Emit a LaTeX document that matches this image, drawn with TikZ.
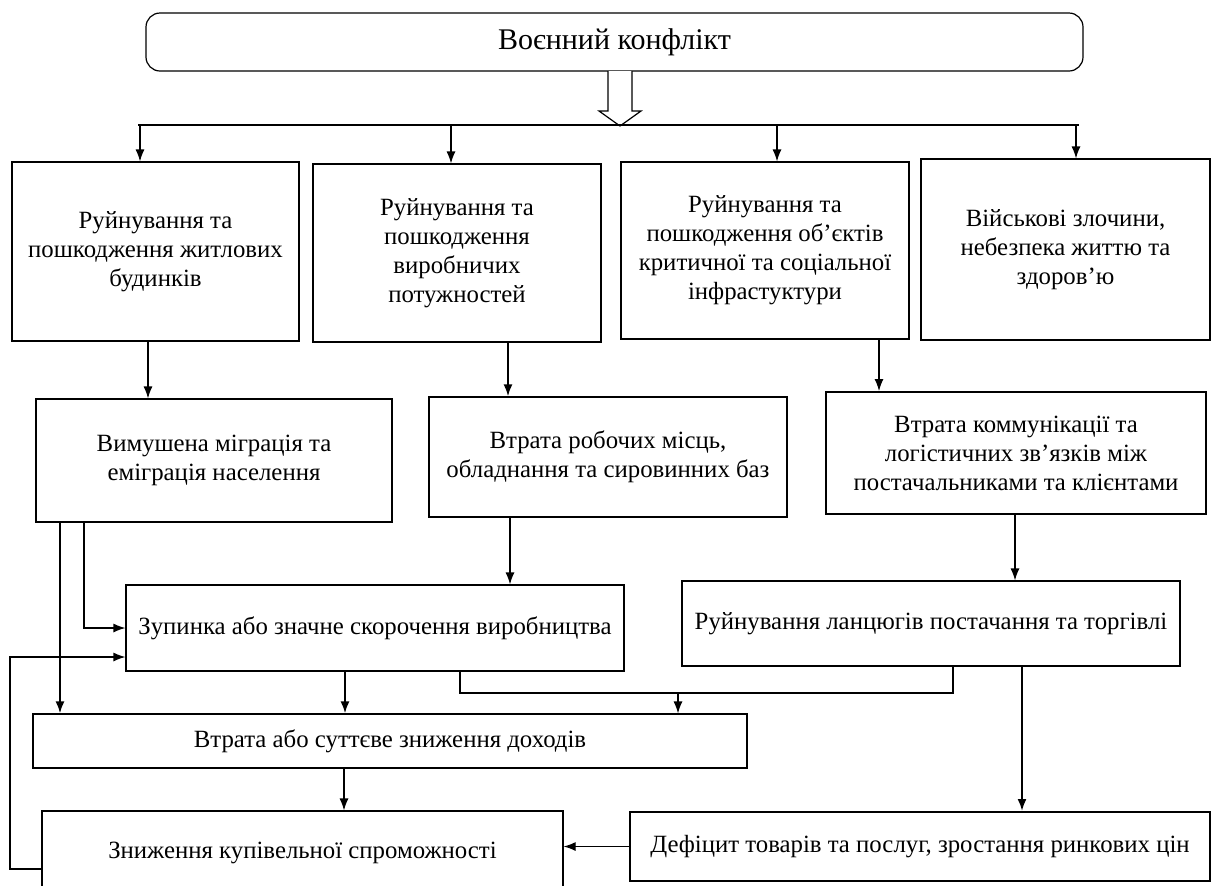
\documentclass[tikz,border=0pt]{standalone}
\usepackage{fontspec}
\setmainfont{Liberation Serif}
\usetikzlibrary{arrows.meta}

\tikzset{
  box/.style={draw, line width=0.6pt, align=center, inner sep=2pt,
    font=\fontsize{12.4}{14.5}\selectfont},
  arr/.style={-{Latex[length=6pt,width=4.5pt]}, line width=0.6pt},
  link/.style={line width=0.6pt},
}

\begin{document}
\begin{tikzpicture}[x=0.5pt, y=-0.5pt]
  \clip (0,0) rectangle (1215,885);

  % top
  \node[box, rounded corners=7pt, minimum width=468.5pt, minimum height=29pt,
    font=\fontsize{15}{17}\selectfont] (war) at (614.5,42) {Воєнний конфлікт};

  % first row
  \node[box, minimum width=143.5pt, minimum height=89.5pt] (B1) at (155.5,251.5)
    {Руйнування та\\пошкодження житлових\\будинків};
  \node[box, minimum width=144pt, minimum height=89pt] (B2) at (457,253)
    {Руйнування та\\пошкодження\\виробничих\\потужностей};
  \node[box, minimum width=144pt, minimum height=88.5pt] (B3) at (765,250.5)
    {Руйнування та\\пошкодження об’єктів\\критичної та соціальної\\інфрастуктури};
  \node[box, minimum width=144.5pt, minimum height=90.5pt] (B4) at (1065.5,249.5)
    {Військові злочини,\\небезпека життю та\\здоров’ю};

  % second row
  \node[box, minimum width=178pt, minimum height=61.5pt] (C1) at (214,460.5)
    {Вимушена міграція та\\еміграція населення};
  \node[box, minimum width=179pt, minimum height=60pt] (C2) at (608,457)
    {Втрата робочих місць,\\обладнання та сировинних баз};
  \node[box, line width=1pt, minimum width=190pt, minimum height=61pt] (C3) at (1016,453)
    {Втрата коммунікації та\\логістичних зв’язків між\\постачальниками та клієнтами};

  % third row
  \node[box, minimum width=249pt, minimum height=43pt] (D1) at (375,628)
    {Зупинка або значне скорочення виробництва};
  \node[box, minimum width=249pt, minimum height=42.5pt] (D2) at (931,623.5)
    {Руйнування ланцюгів постачання та торгівлі};

  \node[box, minimum width=357pt, minimum height=27pt] (E1) at (390,741)
    {Втрата або суттєве зниження доходів};

  % bottom
  \node[box, minimum width=260.5pt, minimum height=42pt] (F1) at (302.5,853)
    {Зниження купівельної спроможності};
  \node[box, line width=1pt, minimum width=290pt, minimum height=34.5pt] (F2) at (920,846.5)
    {Дефіцит товарів та послуг, зростання ринкових цін};

  % hollow arrow and bar
  \coordinate (h) at (620,71);
  \draw[link, fill=white] (h) ++(-12,0) -- ++(0,40) -- ++(-9,0) -- ++(21,15)
    -- ++(21,-15) -- ++(-9,0) -- ++(0,-40);
  \coordinate (barL) at (138,125);
  \coordinate (barR) at (1079,125);
  \draw[line width=1pt] (barL) -- (barR);
  \coordinate (d1) at (140,125);
  \coordinate (d2) at (451,125);
  \coordinate (d3) at (777,125);
  \coordinate (d4) at (1076,125);
  \draw[arr] (d1) -- (d1 |- B1.north);
  \draw[arr] (d2) -- (d2 |- B2.north);
  \draw[arr] (d3) -- (d3 |- B3.north);
  \draw[arr] (d4) -- (d4 |- B4.north);

  % row 1 to row 2
  \coordinate (a1) at (148,341);
  \coordinate (a2) at (508,342);
  \coordinate (a3) at (879,339);
  \draw[arr] (a1) -- (a1 |- C1.north);
  \draw[arr, line width=1pt] (a2) -- (a2 |- C2.north);
  \draw[arr] (a3) -- (a3 |- C3.north);

  % row 2 to row 3
  \coordinate (c1a) at (60,522);
  \coordinate (c1b) at (84,522);
  \coordinate (c2) at (510,517);
  \coordinate (c3) at (1015,514);
  \draw[arr, line width=1pt] (c1a) -- (c1a |- E1.north);
  \draw[arr] (c1b) |- (D1.west);
  \draw[arr] (c2) -- (c2 |- D1.north);
  \draw[arr] (c3) -- (c3 |- D2.north);

  % row 3 to income
  \coordinate (e1) at (345,671);
  \draw[arr, line width=1pt] (e1) -- (e1 |- E1.north);
  \coordinate (j1) at (460,671);
  \coordinate (j2) at (953,666);
  \coordinate (jb) at (678,693);
  \draw[line width=1pt] (j1) |- (jb) -| (j2);
  \draw[arr] (jb) -- (jb |- E1.north);

  % to the bottom row
  \coordinate (g1) at (344,768);
  \draw[arr] (g1) -- (g1 |- F1.north);
  \coordinate (g2) at (1022,666);
  \draw[arr, line width=1pt] (g2) -- (g2 |- F2.north);
  \draw[arr] (F2.west) -- (F2.west -| F1.east);

  % feedback loop
  \coordinate (f1l) at (42,869);
  \coordinate (lp) at (10,657);
  \draw[arr] (f1l) -| (lp) -- (lp -| D1.west);
\end{tikzpicture}
\end{document}
